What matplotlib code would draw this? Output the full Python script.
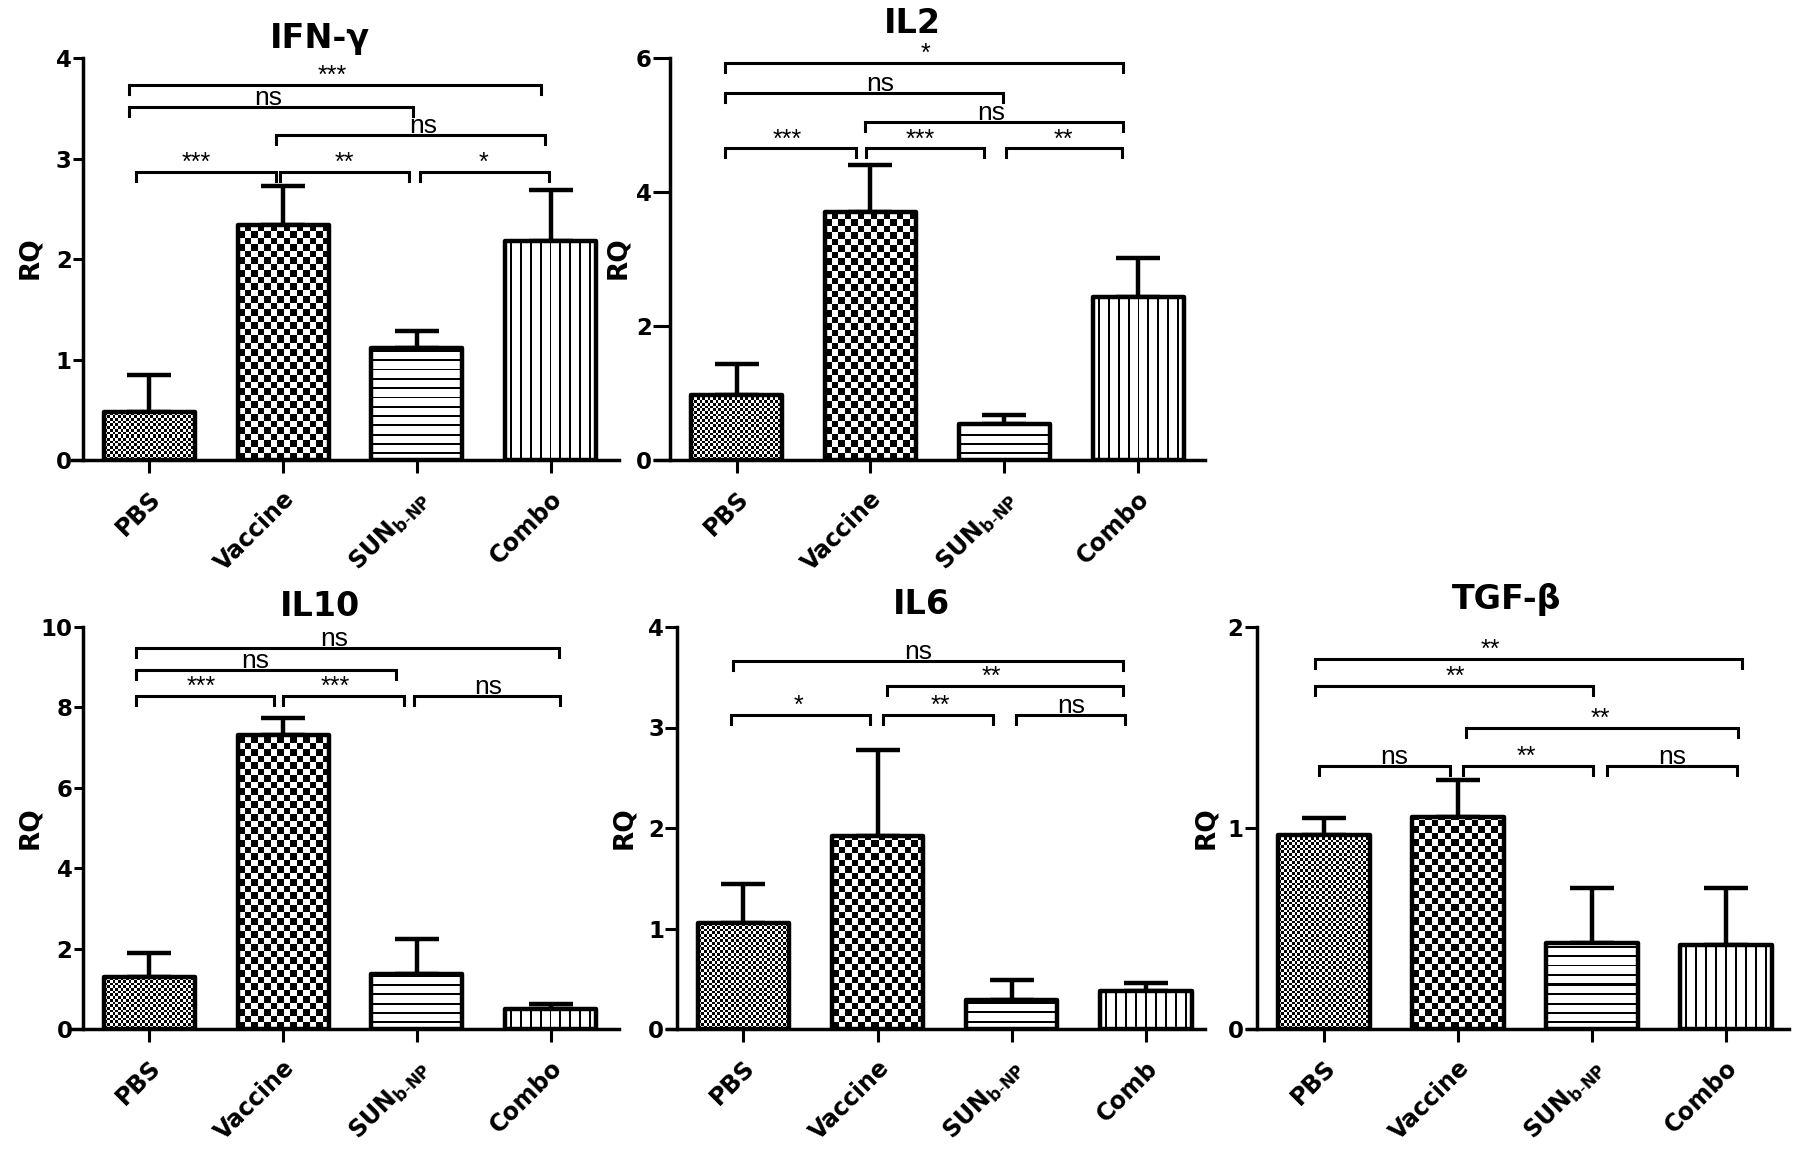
import numpy as np
import matplotlib
matplotlib.use('Agg')
import matplotlib.pyplot as plt
import matplotlib.transforms as mtransforms

# ---------------- data ----------------
categories = ['PBS', 'Vaccine', r'SUN$_{\mathbf{b}\text{-}\mathbf{NP}}$', 'Combo']
categories_il6 = ['PBS', 'Vaccine', r'SUN$_{\mathbf{b}\text{-}\mathbf{NP}}$', 'Comb']

ifn_mean = [0.48, 2.34, 1.11, 2.18]
ifn_err = [0.365, 0.39, 0.17, 0.51]
il2_mean = [0.97, 3.70, 0.53, 2.43]
il2_err = [0.46, 0.70, 0.14, 0.58]
il10_mean = [1.29, 7.31, 1.36, 0.50]
il10_err = [0.59, 0.42, 0.87, 0.12]
il6_mean = [1.05, 1.92, 0.29, 0.38]
il6_err = [0.39, 0.86, 0.20, 0.08]
tgf_mean = [0.965, 1.056, 0.43, 0.42]
tgf_err = [0.085, 0.184, 0.27, 0.28]

ifn_yticks = [0, 1, 2, 3, 4]
il2_yticks = [0, 2, 4, 6]
il10_yticks = [0, 2, 4, 6, 8, 10]
il6_yticks = [0, 1, 2, 3, 4]
tgf_yticks = [0, 1, 2]

# significance brackets: (x_start, x_end, height, label, label_x)
ifn_brackets = [(-0.15, 2.93, 3.73, '***', 1.37), (-0.15, 1.97, 3.51, 'ns', 0.89),
                (0.95, 2.96, 3.23, 'ns', 2.05), (-0.10, 0.95, 2.87, '***', 0.35),
                (0.98, 1.94, 2.87, '**', 1.46), (2.02, 2.99, 2.87, '*', 2.50)]
il2_brackets = [(-0.09, 2.89, 5.92, '*', 1.41), (-0.09, 1.99, 5.48, 'ns', 1.07),
                (0.96, 2.89, 5.05, 'ns', 1.90), (-0.09, 0.89, 4.65, '***', 0.38),
                (0.97, 1.85, 4.65, '***', 1.37), (2.01, 2.88, 4.65, '**', 2.44)]
il10_brackets = [(-0.10, 3.06, 9.47, 'ns', 1.38), (-0.10, 1.84, 8.92, 'ns', 0.79),
                 (-0.10, 0.93, 8.29, '***', 0.39), (1.00, 1.90, 8.29, '***', 1.39),
                 (1.98, 3.07, 8.29, 'ns', 2.53)]
il6_brackets = [(-0.08, 2.83, 3.66, 'ns', 1.30), (1.07, 2.83, 3.41, '**', 1.85),
                (-0.09, 0.94, 3.12, '*', 0.41), (1.04, 1.86, 3.12, '**', 1.47),
                (2.03, 2.84, 3.12, 'ns', 2.44)]
tgf_brackets = [(-0.065, 3.12, 1.84, '**', 1.24), (-0.065, 2.01, 1.705, '**', 0.98),
                (1.06, 3.09, 1.50, '**', 2.06), (-0.04, 0.94, 1.31, 'ns', 0.52),
                (1.04, 2.01, 1.31, '**', 1.51), (2.11, 3.08, 1.31, 'ns', 2.60)]

# ---------------- style / layout ----------------
W, H = 1800, 1149
fig = plt.figure(figsize=(18, 11.49), dpi=100)
plt.rcParams['mathtext.fontset'] = 'dejavusans'

AX_FONT = 'DejaVu Sans'
ANNOT_FONT = 'Liberation Sans'
patterns = ['fine', 'coarse', 'hlines', 'vlines']


def rect(l, r, t, b):
    return [l / W, 1 - b / H, (r - l) / W, (b - t) / H]


def texture(kind, npx, npy):
    yy, xx = np.mgrid[0:npy, 0:npx].astype(float)
    if kind == 'fine':
        mask = ((np.floor(xx / 2.7) + np.floor(yy / 2.7)) % 2) == 0
    elif kind == 'coarse':
        mask = ((np.floor(xx / 6.5) + np.floor(yy / 6.5)) % 2) == 0
    elif kind == 'hlines':
        mask = ((yy + 4) % 9.3) < 1.8
    else:
        mask = ((xx + 5) % 9.8) < 1.8
    return np.where(mask, 0.0, 1.0)


panels = [
    dict(title='IFN-γ', means=ifn_mean, errs=ifn_err, ymax=4, yticks=ifn_yticks,
         br=ifn_brackets, labels=categories, px=(72, 619, 58, 460), xlim=(-0.578, 3.51),
         spine=0.020, tpos=(320, 48), rq=(30, 258), ytl=7),
    dict(title='IL2', means=il2_mean, errs=il2_err, ymax=6, yticks=il2_yticks,
         br=il2_brackets, labels=categories, px=(655, 1205, 58, 460), xlim=(-0.61, 3.50),
         spine=0.027, tpos=(912, 33), rq=(618, 258), ytl=12),
    dict(title='IL10', means=il10_mean, errs=il10_err, ymax=10, yticks=il10_yticks,
         br=il10_brackets, labels=categories, px=(72, 619, 627, 1029), xlim=(-0.578, 3.51),
         spine=0.020, tpos=(320, 616), rq=(30, 828), ytl=6.5),
    dict(title='IL6', means=il6_mean, errs=il6_err, ymax=4, yticks=il6_yticks,
         br=il6_brackets, labels=categories_il6, px=(667, 1205, 627, 1029), xlim=(-0.57, 3.44),
         spine=0.019, tpos=(921, 614), rq=(624, 828), ytl=8.5),
    dict(title='TGF-β', means=tgf_mean, errs=tgf_err, ymax=2, yticks=tgf_yticks,
         br=tgf_brackets, labels=categories, px=(1247, 1789, 627, 1029), xlim=(-0.575, 3.47),
         spine=0.018, tpos=(1507, 609), rq=(1206, 828), ytl=8.5),
]

x = np.arange(len(categories))
bar_w = 0.68

for p in panels:
    l, r, t, b = p['px']
    ax = fig.add_axes(rect(l, r, t, b))
    ax.set_xlim(*p['xlim'])
    ax.set_ylim(0, p['ymax'])

    means = np.array(p['means'])
    errs = np.array(p['errs'])
    ax.errorbar(x, means, yerr=[np.zeros_like(errs), errs], fmt='none', ecolor='black',
                elinewidth=3.2, capsize=16, capthick=3.2, zorder=1)
    bars = ax.bar(x, means, width=bar_w, facecolor='none', edgecolor='black',
                  linewidth=3.2, zorder=3, joinstyle='round')
    for bar, kind in zip(bars, patterns):
        x0, y0 = bar.get_x(), bar.get_y()
        w, h = bar.get_width(), bar.get_height()
        (px0, py0), (px1, py1) = ax.transData.transform([(x0, y0), (x0 + w, y0 + h)])
        npx = max(int(round(px1 - px0)), 1)
        npy = max(int(round(py1 - py0)), 1)
        ax.imshow(texture(kind, npx, npy), extent=(x0, x0 + w, y0, y0 + h), origin='lower',
                  cmap='gray', vmin=0, vmax=1, interpolation='nearest', aspect='auto', zorder=2)
    ax.set_xlim(*p['xlim'])
    ax.set_ylim(0, p['ymax'])

    # significance brackets
    d = 0.0224 * p['ymax']
    for (x1, x2, yb, lab, lx) in p['br']:
        ax.plot([x1, x1, x2, x2], [yb - d, yb, yb, yb - d], color='black', lw=2.2,
                solid_joinstyle='miter', clip_on=False, zorder=4)
        fs = 19 if lab == 'ns' else 18
        ax.annotate(lab, (lx, yb), xytext=(0, 1.5), textcoords='offset points',
                    ha='center', va='baseline', fontsize=fs, family=ANNOT_FONT,
                    annotation_clip=False)

    # spines / ticks
    for s in ['top', 'right']:
        ax.spines[s].set_visible(False)
    ax.spines['left'].set_position(('axes', p['spine']))
    ax.spines['left'].set_linewidth(2.5)
    ax.spines['bottom'].set_linewidth(2.5)
    ax.set_yticks(p['yticks'])
    ax.set_yticklabels([str(v) for v in p['yticks']], fontsize=16.5, fontweight='bold',
                       family=AX_FONT)
    ax.tick_params(axis='y', length=p['ytl'], width=2.2, pad=1)
    ax.set_xticks(x)
    ax.set_xticklabels(p['labels'], rotation=45, ha='right', va='center',
                       rotation_mode='anchor', fontsize=17, fontweight='bold', family=AX_FONT)
    ax.tick_params(axis='x', length=9, width=2.2, pad=16.5)
    offset = mtransforms.ScaledTranslation(0.08, 0, fig.dpi_scale_trans)
    for lab in ax.get_xticklabels():
        lab.set_transform(lab.get_transform() + offset)

    fig.text(p['tpos'][0] / W, 1 - p['tpos'][1] / H, p['title'], ha='center', va='baseline',
             fontsize=24, fontweight='bold', family=AX_FONT)
    fig.text(p['rq'][0] / W, 1 - p['rq'][1] / H, 'RQ', ha='center', va='center', rotation=90,
             fontsize=19, fontweight='bold', family=AX_FONT)

fig.savefig('out.png', dpi=100)
